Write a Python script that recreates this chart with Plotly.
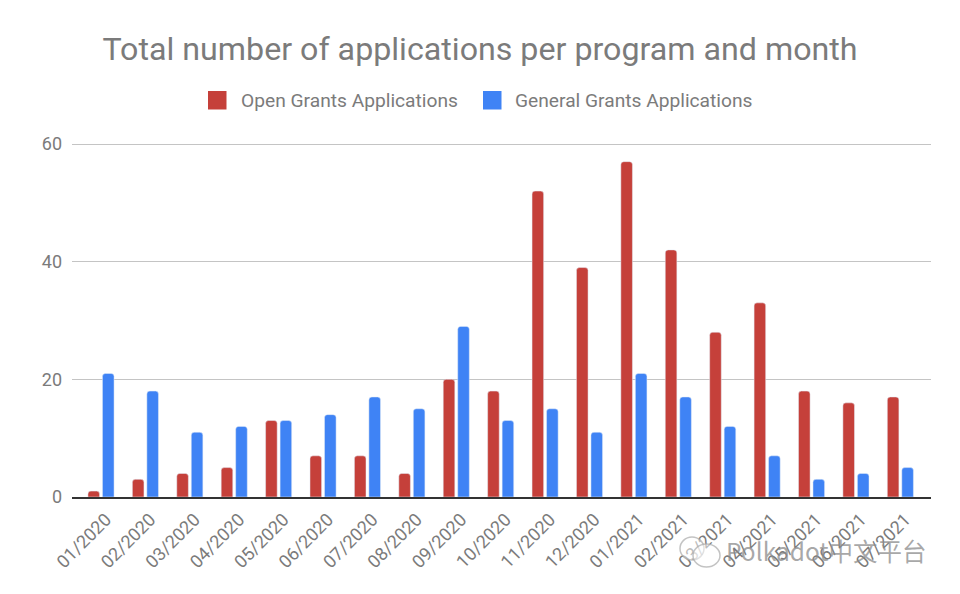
import plotly.graph_objects as go

months = ["01/2020", "02/2020", "03/2020", "04/2020", "05/2020", "06/2020", "07/2020",
          "08/2020", "09/2020", "10/2020", "11/2020", "12/2020", "01/2021", "02/2021",
          "03/2021", "04/2021", "05/2021", "06/2021", "07/2021"]
open_grants = [1, 3, 4, 5, 13, 7, 7, 4, 20, 18, 52, 39, 57, 42, 28, 33, 18, 16, 17]
general_grants = [21, 18, 11, 12, 13, 14, 17, 15, 29, 13, 15, 11, 21, 17, 12, 7, 3, 4, 5]
y_ticks = [0, 20, 40, 60]

GREY = "#7b7b7b"
RED = "#c5403a"
BLUE = "#3f83f5"


def px_x(p):
    return (p - 72) / 859


def px_y(p):
    return (497 - p) / 355


fig = go.Figure(data=[
    go.Bar(name="Open Grants Applications", x=months, y=open_grants,
           marker_color=RED, marker_cornerradius=3),
    go.Bar(name="General Grants Applications", x=months, y=general_grants,
           marker_color=BLUE, marker_cornerradius=3),
])

fig.update_layout(
    width=960,
    height=594,
    barmode="group",
    bargap=0.347,
    bargroupgap=0.2,
    showlegend=False,
    paper_bgcolor="white",
    plot_bgcolor="white",
    font=dict(family="Roboto", color=GREY),
    margin=dict(l=72, r=29, t=142, b=97),
    title=dict(text="Total number of applications per program and month",
               font=dict(size=32.2, color=GREY), x=0.5, xanchor="center",
               y=0.918, yanchor="middle"),
)
fig.update_xaxes(
    categoryorder="array", categoryarray=months, range=[-0.653, 18.69],
    tickangle=-45, tickfont=dict(size=18, color=GREY), ticks="",
    ticklabelshift=5, ticklabelstandoff=3,
    showgrid=False, showline=True, linecolor="#333333", linewidth=2,
)
# range runs a bit past 60, otherwise plotly drops the top gridline
fig.update_yaxes(
    range=[0, 60.34], tickvals=y_ticks, tickfont=dict(size=18, color=GREY), ticks="",
    ticklabelstandoff=9, showgrid=True, gridcolor="#c4c4c4", gridwidth=1,
    zeroline=False, showline=False,
)

# legend drawn by hand, the built-in swatches can't get this big
for name, color, swatch_x, text_x in [("Open Grants Applications", RED, 208, 240),
                                      ("General Grants Applications", BLUE, 483, 514)]:
    fig.add_shape(type="rect", xref="paper", yref="paper", x0=px_x(swatch_x), x1=px_x(swatch_x + 18.5),
                  y0=px_y(91), y1=px_y(109.5), fillcolor=color, line_width=0)
    fig.add_annotation(text=name, xref="paper", yref="paper", x=px_x(text_x), y=px_y(100.5),
                       xanchor="left", yanchor="middle", showarrow=False, xshift=-1,
                       font=dict(size=19.2, color=GREY))

# watermark stamped over the lower right corner
fig.add_shape(type="circle", xref="paper", yref="paper", x0=px_x(680), x1=px_x(704), y0=px_y(537), y1=px_y(560),
              line=dict(color="rgba(170,170,170,0.7)", width=1.5), fillcolor="rgba(255,255,255,0.5)")
fig.add_shape(type="circle", xref="paper", yref="paper", x0=px_x(693), x1=px_x(720), y0=px_y(544), y1=px_y(567),
              line=dict(color="rgba(170,170,170,0.7)", width=1.5), fillcolor="rgba(255,255,255,0.5)")
fig.add_annotation(text="Polkadot中文平台", xref="paper", yref="paper", x=px_x(929), y=px_y(550),
                   xanchor="right", yanchor="middle", showarrow=False,
                   font=dict(family="Noto Sans CJK SC", size=24.5, color="rgba(140,140,140,0.75)"))

fig.write_html("out.html", config={"displayModeBar": False},
               post_script="document.body.style.margin = '0';")
